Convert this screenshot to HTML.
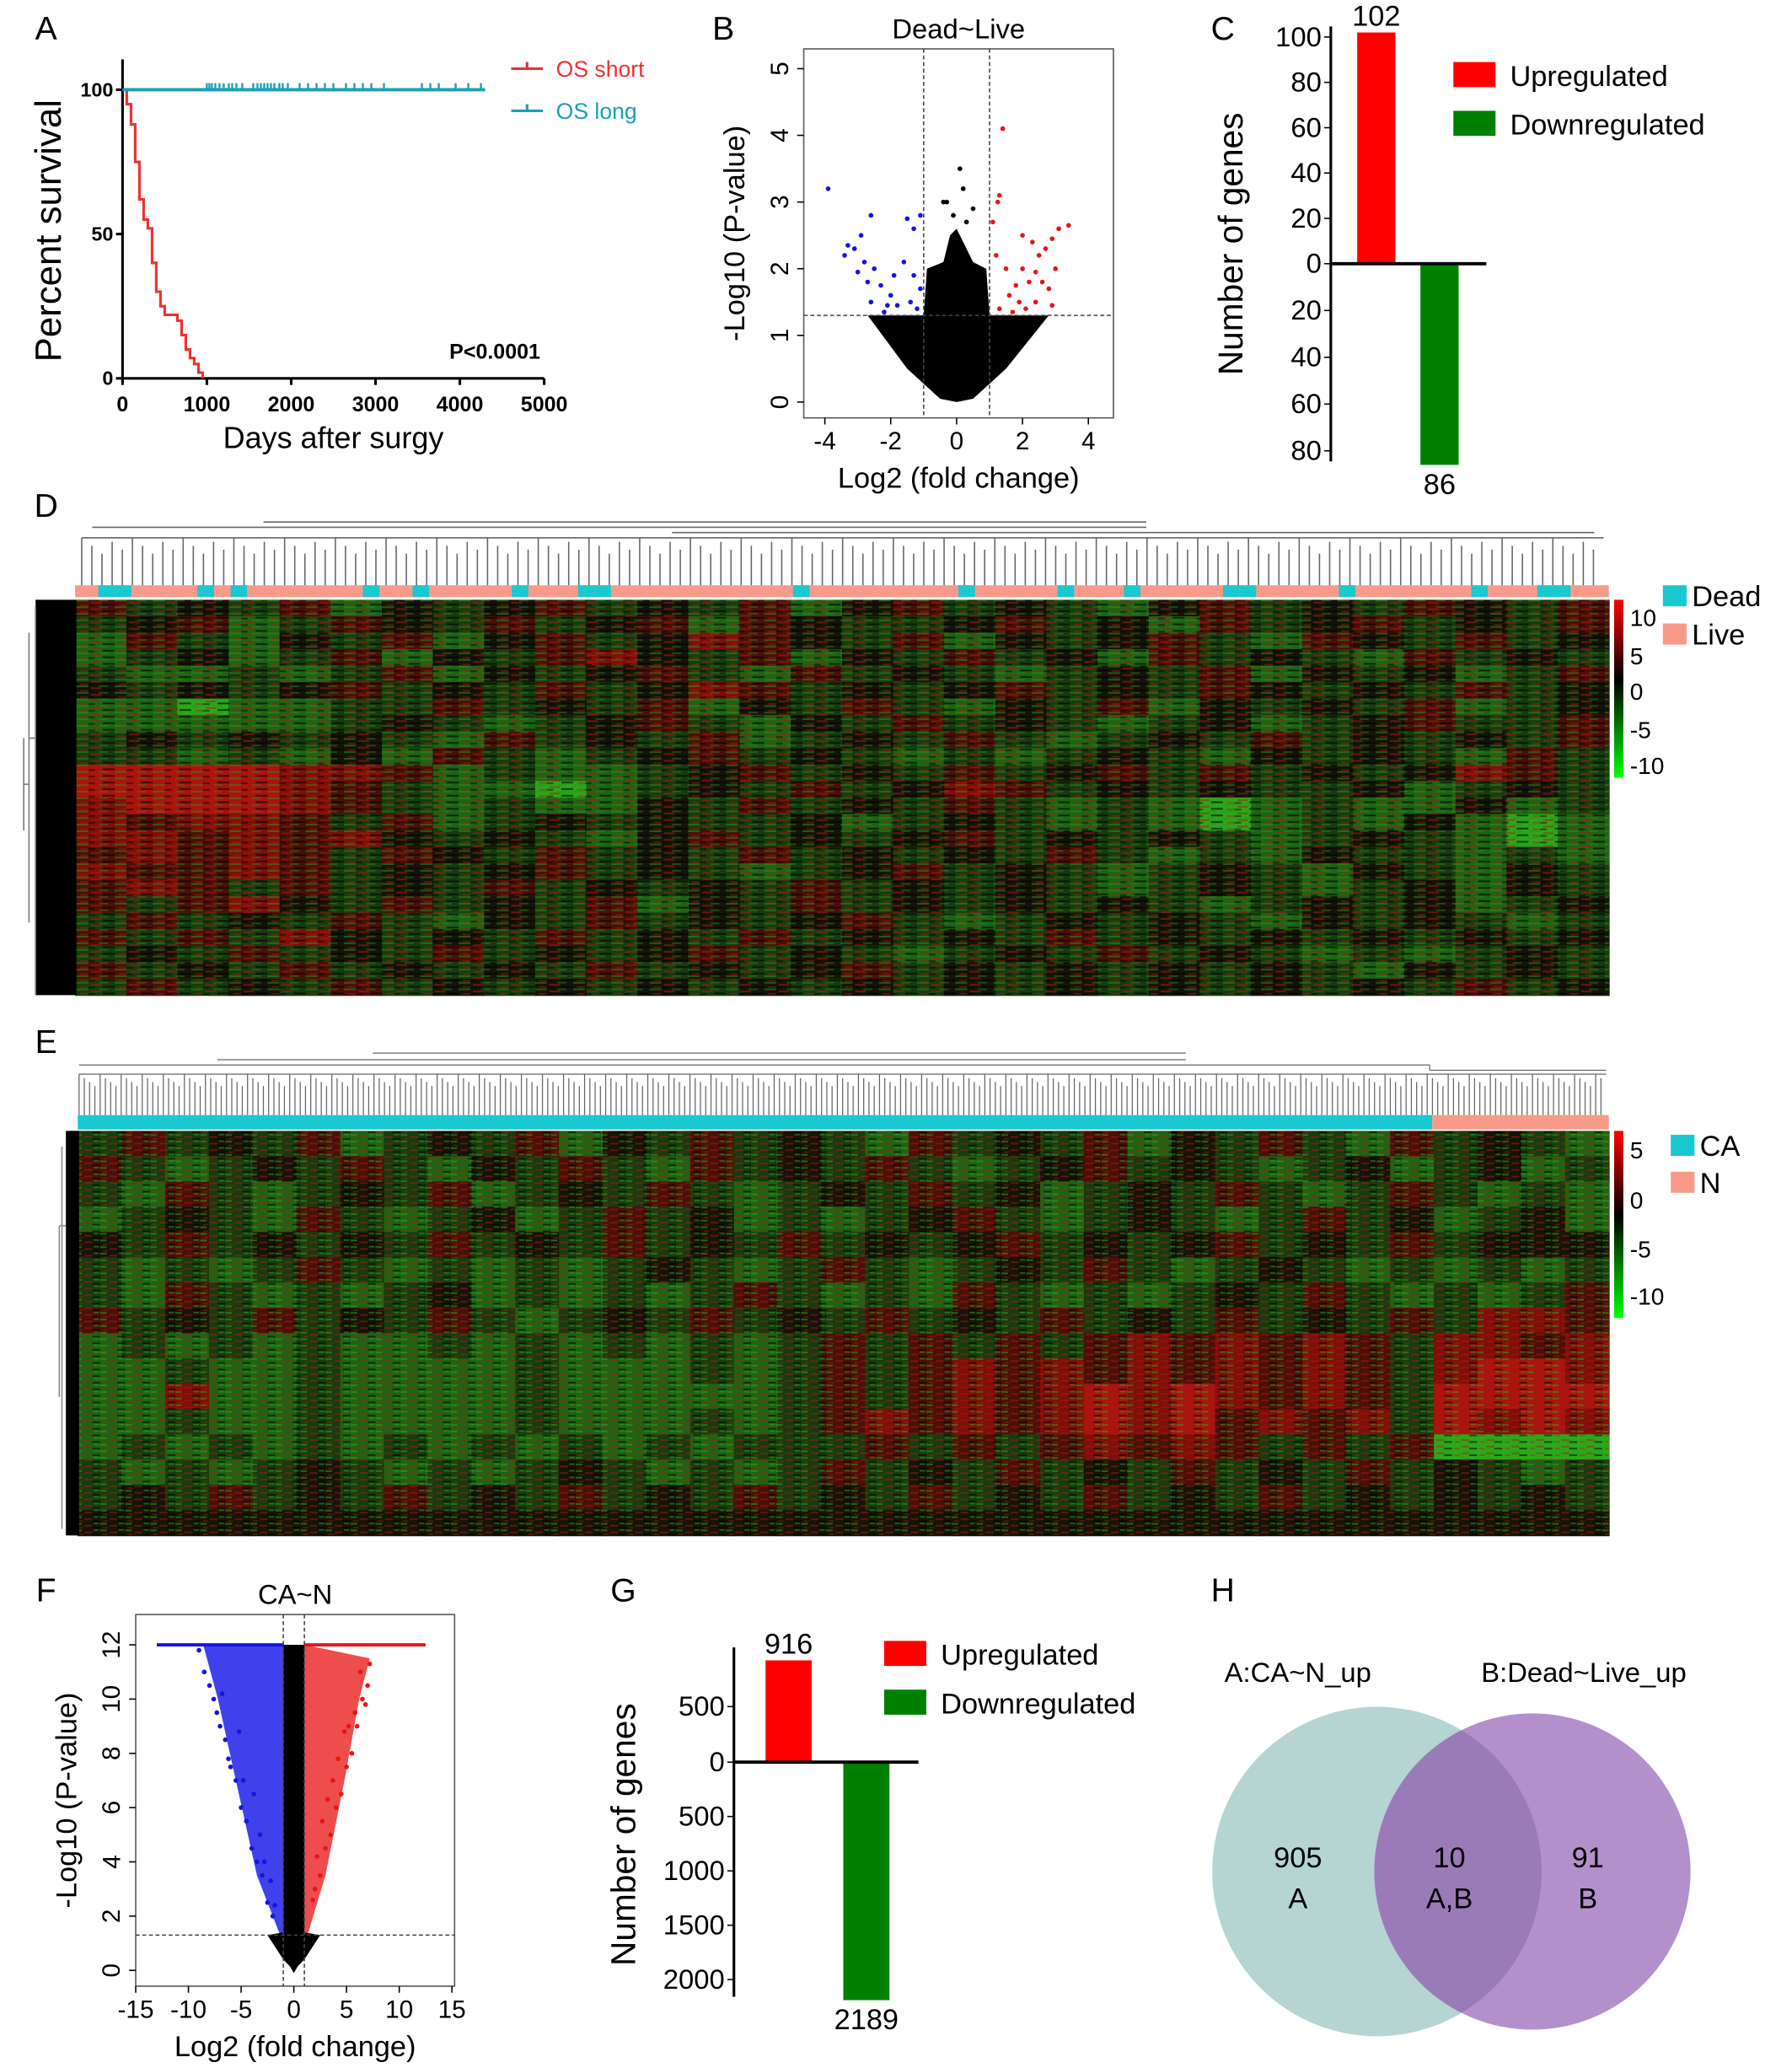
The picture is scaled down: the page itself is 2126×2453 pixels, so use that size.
<!DOCTYPE html>
<html><head><meta charset="utf-8"><style>
html,body{margin:0;padding:0;background:#fff;}
svg{display:block;font-family:"Liberation Sans",Arial,sans-serif;}
</style></head><body>
<svg id="fig" width="2126" height="2453" viewBox="0 0 1360 1569" xmlns="http://www.w3.org/2000/svg">
<defs>
<pattern id="texD" width="29" height="5" patternUnits="userSpaceOnUse">
<rect x="0" y="0" width="9" height="1.3" fill="#3a8a20" opacity="0.55"/>
<rect x="11" y="1.5" width="8" height="1.3" fill="#b01810" opacity="0.55"/>
<rect x="20" y="3" width="9" height="1.3" fill="#000" opacity="0.6"/>
<rect x="3" y="3.5" width="6" height="1.2" fill="#b01810" opacity="0.45"/>
<rect x="17" y="0" width="7" height="1.2" fill="#3a8a20" opacity="0.45"/>
<rect x="9" y="3.6" width="5" height="1.2" fill="#000" opacity="0.5"/>
</pattern>
<pattern id="texE" width="19" height="5" patternUnits="userSpaceOnUse">
<rect x="0" y="0.5" width="5" height="1.3" fill="#40a020" opacity="0.55"/>
<rect x="7" y="2" width="6" height="1.3" fill="#b01810" opacity="0.5"/>
<rect x="13" y="3.5" width="6" height="1.2" fill="#000" opacity="0.55"/>
<rect x="2" y="3.5" width="4" height="1.2" fill="#b01810" opacity="0.4"/>
<rect x="14" y="0.3" width="4" height="1.2" fill="#40a020" opacity="0.5"/>
</pattern>
<linearGradient id="cbar" x1="0" y1="0" x2="0" y2="1">
<stop offset="0" stop-color="#ff0000"/><stop offset="0.45" stop-color="#000"/><stop offset="1" stop-color="#00ff00"/>
</linearGradient>
</defs>
<g id="root"></g>
</svg>
<script>
// ---------- DATA ----------
const kmTimes=[0,50,100,150,200,250,300,350,400,450,500,550,600,650,700,750,800,850,900,950];
const kmSurv=[100,95,88,75,62,55,52,40,30,25,22,22,22,20,15,10,7,5,2,0];
const censorTimes=[1000,1030,1060,1100,1150,1200,1260,1300,1350,1420,1550,1600,1640,1680,1720,1760,1800,1860,1900,1960,2100,2200,2300,2400,2500,2650,2750,2850,2950,3100,3550,3650,3750,3950,4100,4250];
const volBblueX=[-3.9,-2.6,-2.9,-3.3,-3.1,-3.4,-2.8,-2.5,-3.0,-2.7,-2.3,-2.0,-2.6,-1.8,-1.4,-1.2,-2.2,-1.6,-1.3,-1.1,-1.5,-1.9,-1.1,-2.1,-1.3];
const volBblueY=[3.2,2.8,2.5,2.35,2.3,2.2,2.1,2.0,1.95,1.8,1.75,1.6,1.5,1.45,1.5,1.4,1.35,2.1,2.6,2.8,2.75,1.9,1.7,1.45,1.9];
const volBredX=[1.4,1.3,1.25,1.1,1.2,1.5,2.0,2.3,2.9,3.1,3.4,2.5,2.7,2.0,2.2,2.6,2.8,1.6,1.9,2.4,1.3,1.7,2.1,2.9,3.0,2.4,1.8];
const volBredY=[4.1,3.1,3.0,2.7,2.2,2.0,2.5,2.4,2.45,2.6,2.65,2.2,2.3,2.0,1.8,1.8,1.7,1.6,1.5,1.5,1.4,1.35,1.4,1.45,2.0,1.95,1.75];
const volBcloudX=[-2.7,-1.0,-0.9,-0.4,-0.2,0,0.2,0.5,0.9,1.0,2.8,1.5,0.5,0,-0.5,-1.5];
const volBcloudY=[1.3,1.3,2.0,2.1,2.5,2.6,2.4,2.1,2.0,1.3,1.3,0.5,0.05,0,0.05,0.5];
const volBblackX=[-0.3,0.1,0.2,-0.4,0.5,-0.1,0.3];
const volBblackY=[3.0,3.5,3.2,3.0,2.9,2.8,2.7];
const barCcats=["Upregulated","Downregulated"];
const barCvals=[102,86];
const barGvals=[916,2189];
const heatD=[
"1h0h1g0h01h0h1g01h0hg01h0h10h1",
"h01gh10h1h01g10hh01h0g1h01h0h1",
"g1hg0h1g01h0r10h1g0h01hg10h1h0",
"gh0gh1g0h1r0h1g0h1h0g1h0hg1h0h",
"hgghgh1g0h01hg1h0hgh0h1g0h0gh1",
"0h0h01h0h1h0r1h0h01h0h10h0h1h0",
"ggGgghh1h0h1g0h1hg0h1g0h0h1gh0",
"gggggh0hgh01hg0h1h0hgh0gh01hh1",
"h0h0h0hg1h0h1gh0h1hgh0h1h0h0h1",
"hhghg0g1hgh01h0hghgh0hg0h0hg1h",
"RRRRrr1ghggh01h0h1h01h1h0h0r1h",
"RRRRr1hggGgh0h1h0r1h0h0hh0gh0h",
"rRRRr1hghgg0h1h0h1hghgGghgg0gh",
"r1rr1h1gh0h0hh0gh0hghgGghg0gGg",
"rr1r1r0h0hg01h0h01h0h0hgh0hgGg",
"1r1r1h10h1h0h1h0h0h1hghg0hhghg",
"r11r1h0h01h0hgh01h0hgh0hg0hg0h",
"1r1h1h0h1h0h0h1h0h0hgh0hgh0g0h",
"1h1r0h1h0h1g0h1h0h0h0hgh0h0gh0",
"h1h0h1hg0h1h0h01hgh0h0hg0h0hgh",
"1h1hr0h0h1h0h1h0h0h1h0h0h0h0h0",
"h0h1h0h1h0h01h0hgh0h1h0hghgh0h",
"1h0h1h0h0h1h0h01h0h0h0h0hg0h0h",
"h1h0h1h0h0h0h0h0h0h0h0h0h0h1h0"];
const heatE=[
"h1h0h1gh0h1g0h1h0hg1h0h1g0h1hg1h0hg",
"1hgh0h1hg0h1hg1h0h1hgh01h0hgh0gh0gh",
"hg1hgh0h1gh0h1hgh0h1h0gh0h1hgh1hghg",
"gh0hg1hgh0gh1h0ghgh01hgh0hgh1h0gh0g",
"0h1h0h0h1h0h1h0h1h0h01h0h01h0h1h000",
"hghgh1hghghgh0hgh1hgh0h1hgh0hghghgh",
"hg1hghgh0ghghgh1hghg1hghgh0h1hghgh1",
"1h0h1h0h1hgh0h1h0h1h0h1h0h1h0h1hrr1",
"ghghghgghghghghgh1h1h1h1r1r1r1hrr1r",
"gghgghgggghggghgh1h1r1r1r1r1r1hrRRr",
"ggrgghgggghgggggh1h1r1rRrRr1r1hRRRR",
"gghgghgggghggghgh1r1r1rRrR1r1rhRrRr",
"ghghghghghghghghhh1h1h1r1r1h1h1GGGG",
"hghgh0hghgh0hghgh1h0h1h0h1h0h1h0hgh",
"h0h1h0h1h0h1h0h1h0h1h0h1h0h1h0h0h0h",
"000000000000000000000000000000000000"];
const dAnnot="LDDLLLLDLDLLLLLLLDLLDLLLLLDLLLDDLLLLLLLLLLLDLLLLLLLLLDLLLLLDLLLDLLLLLDDLLLLLDLLLLLLLDLLLDDLL";
const volFblueX=[-9,-8.5,-8,-7.6,-7,-6.5,-6,-5.5,-5,-4.5,-4,-3.5,-3,-2.5,-2,-6.8,-5.2,-4.8,-3.8,-3.2,-2.8,-2.2,-1.8,-7.3,-6.2];
const volFblueY=[11.8,11,10.5,10,9,8.5,7.5,7,6,5.5,4.5,4,3.5,2.5,2,10.2,8.8,7,6.5,5,4,3.3,2.4,9.5,7.8];
const volFredX=[7.2,7,6.5,6,5.5,5,4.5,4,3.5,3,2.5,2,6.3,5.8,4.8,4.2,3.7,3.2,2.7,2.2,1.8,6.8,5.2];
const volFredY=[11.3,10.5,10,9,8,7.5,6.5,6,5,4.5,3.5,3,11,9.5,8.8,7.8,7,6.3,5.5,4.2,2.6,9.8,9];
const vennLabels=["905","10","91"];

// ---------- helpers ----------
const NS="http://www.w3.org/2000/svg";
const root=document.getElementById('root');
function el(tag,attrs,parent,txt){const e=document.createElementNS(NS,tag);for(const k in attrs)e.setAttribute(k,attrs[k]);if(txt!==undefined)e.textContent=txt;(parent||root).appendChild(e);return e;}
function G(name){const g=el('g',{});


return g;}
function T(x,y,s,size,opts,parent){const t=el('text',Object.assign({x:x,y:y,'font-size':size,fill:'#000'},opts||{}),parent,s);


return t;}

[["A",35,30],["B",549,30],["C",928,30],["D",35,392],["E",35,799],["F",35,1215],["G",473,1215],["H",928,1215]].forEach(p=>{T(p[1],p[2],p[0],25,{'text-anchor':'middle',dn:'panel-label-'+p[0].toLowerCase()});});

// ---------- Panel A ----------
(function(){const g=G('km-plot');
const xs=d=>93+d*(320/5000), ys=v=>287-v*2.19;
el('line',{x1:93,y1:45,x2:93,y2:287,stroke:'#000','stroke-width':2},g);
el('line',{x1:93,y1:287,x2:413,y2:287,stroke:'#000','stroke-width':2},g);
[0,50,100].forEach(v=>{el('line',{x1:88,y1:ys(v),x2:93,y2:ys(v),stroke:'#000','stroke-width':2},g);T(86,ys(v)+5,v,15,{'text-anchor':'end','font-weight':'bold',dn:'y-tick'},g);});
[0,1000,2000,3000,4000,5000].forEach(v=>{el('line',{x1:xs(v),y1:287,x2:xs(v),y2:292,stroke:'#000','stroke-width':2},g);T(xs(v),312,v,16,{'text-anchor':'middle','font-weight':'bold',dn:'x-tick'},g);});
let d='M'+xs(0)+','+ys(100);for(let i=1;i<kmTimes.length;i++){d+=' L'+xs(kmTimes[i])+','+ys(kmSurv[i-1])+' L'+xs(kmTimes[i])+','+ys(kmSurv[i]);}
const r=el('path',{d:d,fill:'none',stroke:'#f03030','stroke-width':2},g);


const b=el('line',{x1:xs(0),y1:ys(100),x2:xs(4300),y2:ys(100),stroke:'#1aa0b8','stroke-width':2.5},g);


censorTimes.forEach(t=>{const c=el('line',{x1:xs(t),y1:ys(100)-5,x2:xs(t),y2:ys(100),stroke:'#1aa0b8','stroke-width':1.5},g);

});
T(46,175,'Percent survival',28,{'text-anchor':'middle',transform:'rotate(-90 46 175)',dn:'y-axis-title'},g);
T(253,340,'Days after surgy',23,{'text-anchor':'middle',dn:'x-axis-title'},g);
T(410,272,'P<0.0001',16,{'text-anchor':'end','font-weight':'bold',dn:'p-value'},g);
el('line',{x1:388,y1:52,x2:412,y2:52,stroke:'#f03030','stroke-width':2},g);el('line',{x1:400,y1:47,x2:400,y2:52,stroke:'#f03030','stroke-width':2},g);
T(422,58,'OS short',17,{fill:'#f03030',dn:'legend-os-short'},g);
el('line',{x1:388,y1:84,x2:412,y2:84,stroke:'#1aa0b8','stroke-width':2},g);el('line',{x1:400,y1:79,x2:400,y2:84,stroke:'#1aa0b8','stroke-width':2},g);
T(422,90,'OS long',17,{fill:'#1aa0b8',dn:'legend-os-long'},g);
})();

// ---------- volcano generic ----------
function volcano(name,box,xr,yr,xt,yt,cutx,cuty,title,cloud,blue,red,black,extra){
const g=G(name);
const xs=v=>box.x0+(v-xr[0])/(xr[1]-xr[0])*(box.x1-box.x0);
const ys=v=>box.yb-(v-yr[0])/(yr[1]-yr[0])*(box.yb-box.yt);
el('rect',{x:box.l,y:box.t,width:box.r-box.l,height:box.b-box.t,fill:'none',stroke:'#555','stroke-width':1},g);
if(extra)extra(g,xs,ys);
let p=cloud[0].map((x,i)=>xs(x)+','+ys(cloud[1][i])).join(' ');
el('polygon',{points:p,fill:'#000'},g);
[[blue,'#1515e0'],[red,'#e81515'],[black,'#000']].forEach(([s,c])=>{s[0].forEach((x,i)=>{const d=el('circle',{cx:xs(x),cy:ys(s[1][i]),r:1.8,fill:c},g);

});});
[xs(-cutx),xs(cutx)].forEach(x=>el('line',{x1:x,y1:box.t,x2:x,y2:box.b,stroke:'#444','stroke-dasharray':'3,2','stroke-width':1},g));
el('line',{x1:box.l,y1:ys(cuty),x2:box.r,y2:ys(cuty),stroke:'#444','stroke-dasharray':'3,2','stroke-width':1},g);
xt.forEach(v=>{el('line',{x1:xs(v),y1:box.b,x2:xs(v),y2:box.b+5,stroke:'#000'},g);T(xs(v),box.b+24,v,19,{'text-anchor':'middle',dn:'x-tick'},g);});
yt.forEach(v=>{el('line',{x1:box.l-5,y1:ys(v),x2:box.l,y2:ys(v),stroke:'#000'},g);T(box.l-12,ys(v),v,19,{'text-anchor':'middle',transform:'rotate(-90 '+(box.l-12)+' '+ys(v)+')',dn:'y-tick'},g);});
T((box.l+box.r)/2,box.t-8,title,21,{'text-anchor':'middle',dn:'volcano-title'},g);
T((box.l+box.r)/2,box.b+53,'Log2 (fold change)',22,{'text-anchor':'middle',dn:'x-axis-title'},g);
T(box.l-45,(box.t+box.b)/2,'-Log10 (P-value)',22,{'text-anchor':'middle',transform:'rotate(-90 '+(box.l-45)+' '+((box.t+box.b)/2)+')',dn:'y-axis-title'},g);
return g;}
volcano('volcano-dead-live',{l:610,r:845,t:37,b:317,x0:626,x1:826,yb:305,yt:52},[-4,4],[0,5],[-4,-2,0,2,4],[0,1,2,3,4,5],1,1.3,'Dead~Live',[volBcloudX,volBcloudY],[volBblueX,volBblueY],[volBredX,volBredY],[volBblackX,volBblackY]);
volcano('volcano-ca-n',{l:103,r:345,t:1225,b:1507,x0:103,x1:343,yb:1495,yt:1248},[-15,15],[0,12],[-15,-10,-5,0,5,10,15],[0,2,4,6,8,10,12],1,1.3,'CA~N',
[[-1.6,-1,-1,1,1,1.8,0.6,0,-0.6],[1.2,1.2,12,12,1.2,1.2,0.3,-0.1,0.3]],[volFblueX,volFblueY],[volFredX,volFredY],[[],[]],
function(g,xs,ys){
el('polygon',{points:[[-1.3,1.3],[-3.5,3.5],[-5.5,7],[-7.2,10],[-8.6,12],[-1,12],[-1,1.3]].map(p=>xs(p[0])+','+ys(p[1])).join(' '),fill:'#2020e8',opacity:0.85},g);
el('polygon',{points:[[1.3,1.3],[3,3.5],[4.8,7],[6.2,10],[7.2,11.5],[1,12],[1,1.3]].map(p=>xs(p[0])+','+ys(p[1])).join(' '),fill:'#e82020',opacity:0.8},g);
el('line',{x1:xs(-13),y1:ys(12),x2:xs(-1),y2:ys(12),stroke:'#1515e0','stroke-width':2.5},g);
el('line',{x1:xs(1),y1:ys(12),x2:xs(12.5),y2:ys(12),stroke:'#e81515','stroke-width':2.5},g);
el('polygon',{points:[[-2.5,1.3],[-1,0.4],[0,0],[1,0.4],[2.5,1.3],[1,1.4],[-1,1.4]].map(p=>xs(p[0])+','+ys(p[1])).join(' '),fill:'#000'},g);
});

// ---------- bar charts ----------
function bars(name,ax,vals,upPx,dnPx,upTicks,dnTicks,bx,bw,legX,legY,titleX,titleY){
const g=G(name);
const yUp=v=>ax.zero-v*upPx, yDn=v=>ax.zero+v*dnPx;
const r=el('rect',{x:bx[0],y:yUp(vals[0]),width:bw,height:vals[0]*upPx,fill:'#ff0000'},g);


const gr=el('rect',{x:bx[1],y:ax.zero,width:bw,height:vals[1]*dnPx,fill:'#008000'},g);


el('line',{x1:ax.x,y1:ax.top,x2:ax.x,y2:ax.bot,stroke:'#000','stroke-width':2},g);
el('line',{x1:ax.x,y1:ax.zero,x2:ax.right,y2:ax.zero,stroke:'#000','stroke-width':2.5},g);
upTicks.forEach(v=>{el('line',{x1:ax.x-5,y1:yUp(v),x2:ax.x,y2:yUp(v),stroke:'#000'},g);T(ax.x-7,yUp(v)+7,v,21,{'text-anchor':'end',dn:'y-tick'},g);});
dnTicks.forEach(v=>{el('line',{x1:ax.x-5,y1:yDn(v),x2:ax.x,y2:yDn(v),stroke:'#000'},g);T(ax.x-7,yDn(v)+7,v,21,{'text-anchor':'end',dn:'y-tick'},g);});
T(bx[0]+bw/2,yUp(vals[0])-5,vals[0],22,{'text-anchor':'middle',dn:'value-label'},g);
T(bx[1]+bw/2,yDn(vals[1])+22,vals[1],22,{'text-anchor':'middle',dn:'value-label'},g);
el('rect',{x:legX,y:legY,width:32,height:19,fill:'#ff0000'},g);
el('rect',{x:legX,y:legY+37,width:32,height:19,fill:'#008000'},g);
T(legX+43,legY+18,barCcats[0],22,{dn:'legend-upregulated'},g);
T(legX+43,legY+55,barCcats[1],22,{dn:'legend-downregulated'},g);
T(titleX,titleY,'Number of genes',26,{'text-anchor':'middle',transform:'rotate(-90 '+titleX+' '+titleY+')',dn:'y-axis-title'},g);}
bars('bar-chart-dead-live',{x:1010,zero:200,top:20,bot:350,right:1128},barCvals,1.72,1.775,[0,20,40,60,80,100],[20,40,60,80],[1030,1078],29,1103,47,943,185);
bars('bar-chart-ca-n',{x:557,zero:1337,top:1250,bot:1515,right:697},barGvals,0.0843,0.0825,[0,500],[500,1000,1500,2000],[581,640],35,671,1245,482,1392);

// ---------- heatmaps ----------
const cmap={'G':'#2aa81a','g':'#1d6413','h':'#163c0e','0':'#141408','1':'#4a1008','r':'#7e0f09','R':'#a8140e'};
function heat(name,mat,x0,x1,y0,y1,tex){
const g=G(name);const rows=mat.length,cols=mat[0].length;const cw=(x1-x0)/cols,rh=(y1-y0)/rows;
mat.forEach((row,i)=>{for(let j=0;j<cols;j++){const c=el('rect',{x:x0+j*cw,y:y0+i*rh,width:cw+0.6,height:rh+0.6,fill:cmap[row.charAt(j)]||cmap['0']},g);

}});
el('rect',{x:x0,y:y0,width:x1-x0,height:y1-y0,fill:'url(#'+tex+')'},g);return g;}
heat('heatmap-dead-live',heatD,57,1221,455,755,'texD');
heat('heatmap-ca-n',heatE,59,1221,858,1165,'texE');

(function(){const g=G('annotation-bar-d');const n=dAnnot.length,w=(1217-62)/n;
el('rect',{x:57,y:444,width:1164,height:9,fill:'#f89a8a'},g);
for(let i=0;i<n;i++){if(dAnnot[i]==='D'){const a=el('rect',{x:62+i*w,y:444,width:w,height:9,fill:'#1ac8d0'},g);

}}
const g2=G('annotation-bar-e');
el('rect',{x:59,y:846,width:1087-59,height:11,fill:'#1ac8d0'},g2);
el('rect',{x:1087,y:846,width:1221-1087,height:11,fill:'#f89a8a'},g2);
})();

(function(){
const g=G('dendrogram-top-d');let d='';const n=150,w=(1217-62)/n;
for(let i=0;i<n;i++){const x=62+i*w;const h=408+((i*7)%5)*3;d+='M'+x+',444V'+h;}
d+='M62,408H1217M70,400H870M510,404H1210M200,396H870';
el('path',{d:d,stroke:'#666','stroke-width':1,fill:'none'},g);
const g2=G('dendrogram-top-e');let d2='';const n2=290,w2=(1219-60)/n2;
for(let i=0;i<n2;i++){const x=60+i*w2;const h=815+((i*5)%4)*3;d2+='M'+x+',846V'+h;}
d2+='M60,815H1219M60,808H1085M165,804H900M283,799H900M1085,812H1219M1085,808V812';
el('path',{d:d2,stroke:'#666','stroke-width':0.8,fill:'none'},g2);
const g3=G('dendrogram-left-d');
el('rect',{x:27,y:455,width:31,height:300,fill:'#000'},g3);
el('path',{d:'M27,460V755M22,480V700M18,560V630M22,560H27M18,595H22',stroke:'#777',fill:'none'},g3);
const g4=G('dendrogram-left-e');
el('rect',{x:50,y:858,width:10,height:307,fill:'#000'},g4);
el('path',{d:'M47,870V1160M45,930V1060M45,930H50',stroke:'#888',fill:'none'},g4);
})();

(function(){const g=G('colorbar-d');el('rect',{x:1225,y:455,width:7,height:135,fill:'url(#cbar)'},g);
[[10,468],[5,497],[0,524],[-5,553],[-10,580]].forEach(t=>T(1237,t[1]+7,t[0],18,{dn:'colorbar-tick'},g));
el('rect',{x:1262,y:444,width:18,height:16,fill:'#1ac8d0'},g);T(1284,460,'Dead',22,{dn:'legend-dead'},g);
el('rect',{x:1262,y:473,width:18,height:16,fill:'#f89a8a'},g);T(1284,489,'Live',22,{dn:'legend-live'},g);
const g2=G('colorbar-e');el('rect',{x:1225,y:858,width:7,height:142,fill:'url(#cbar)'},g2);
[[5,872],[0,910],[-5,947],[-10,983]].forEach(t=>T(1237,t[1]+7,t[0],18,{dn:'colorbar-tick'},g2));
el('rect',{x:1268,y:861,width:18,height:16,fill:'#1ac8d0'},g2);T(1290,877,'CA',22,{dn:'legend-ca'},g2);
el('rect',{x:1268,y:889,width:18,height:16,fill:'#f89a8a'},g2);T(1290,905,'N',22,{dn:'legend-n'},g2);
})();

// ---------- Venn ----------
(function(){const g=G('venn-diagram');
const a=el('circle',{cx:1045,cy:1420,r:125,fill:'#b6d4d2'},g);


const b=el('circle',{cx:1163,cy:1420,r:120,fill:'#b38fcb'},g);


const cpath=el('clipPath',{id:'clipA'},g);
el('circle',{cx:1045,cy:1420,r:125},cpath);
el('circle',{cx:1163,cy:1420,r:120,fill:'#9a7bb8','clip-path':'url(#clipA)'},g);
T(985,1276,'A:CA~N_up',21,{'text-anchor':'middle',dn:'venn-label-a'},g);
T(1202,1276,'B:Dead~Live_up',21,{'text-anchor':'middle',dn:'venn-label-b'},g);
[[985,vennLabels[0],'A'],[1100,vennLabels[1],'A,B'],[1205,vennLabels[2],'B']].forEach(v=>{T(v[0],1417,v[1],22,{'text-anchor':'middle',dn:'venn-count'},g);T(v[0],1448,v[2],22,{'text-anchor':'middle',dn:'venn-region'},g);});
})();
</script>
</body></html>
